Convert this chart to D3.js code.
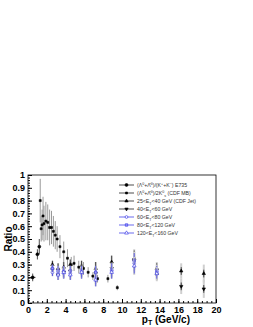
<!DOCTYPE html>
<html>
<head>
<meta charset="utf-8">
<script src="https://cdn.jsdelivr.net/npm/d3@7"></script>
<style>
  body { margin: 0; background: #fff; }
  svg { display: block; font-family: "Liberation Sans", Arial, sans-serif; }
</style>
</head>
<body>
<div id="container"></div>
<script>
const w = 253;
const h = 327;
const padL = 28;
const padR = 216;
const padT = 175;
const padB = 303;

// E735 (Lambda / charged K)
const e735Pt = [0.5, 1.0, 1.2];
const e735Ratio = [0.2, 0.38, 0.44];
const e735Err = [0.03, 0.04, 0.06];

// CDF minimum bias
const mbPt = [1.3, 1.4, 1.5, 1.6, 1.7, 1.9, 2.1, 2.3, 2.5, 2.7, 2.9, 3.1, 3.4, 3.8, 4.2, 4.6, 4.9, 5.4, 5.9, 6.4, 6.9, 7.4, 8.5, 9.5];
const mbRatio = [0.80, 0.58, 0.61, 0.68, 0.62, 0.64, 0.63, 0.59, 0.59, 0.56, 0.53, 0.50, 0.44, 0.40, 0.35, 0.30, 0.31, 0.28, 0.27, 0.24, 0.21, 0.19, 0.19, 0.12];
const mbErr = [0.17, 0.10, 0.12, 0.15, 0.14, 0.15, 0.14, 0.14, 0.13, 0.12, 0.11, 0.10, 0.09, 0.08, 0.07, 0.06, 0.06, 0.05, 0.05, 0.04, 0.03, 0.03, 0.03, 0.02];

// CDF jets, by E_T bin
const jetPt = [2.6, 3.2, 3.8, 4.5, 5.7, 7.2, 8.9, 11.3, 13.7, 16.3, 18.7];
const jet25 = [0.30, 0.27, 0.28, 0.30, 0.29, 0.27, 0.32, 0.35, 0.27, 0.25, 0.23];
const jet40 = [0.26, 0.22, 0.24, 0.25, 0.26, 0.23, 0.27, 0.33, 0.22, 0.13, 0.11];
const jet60 = [0.24, 0.23, 0.23, 0.23, 0.23, 0.20, 0.25, 0.31, 0.24, null, null];
const jet80 = [0.27, 0.25, 0.25, 0.25, 0.25, 0.24, 0.26, 0.33, 0.25, null, null];
const jet120 = [null, 0.22, 0.24, 0.22, 0.24, 0.18, 0.24, 0.29, 0.23, null, null];
const jetStat = [0.03, 0.04, 0.04, 0.04, 0.04, 0.05, 0.05, 0.06, 0.04, 0.03, 0.03];
const jetSys = [0.03, 0.04, 0.04, 0.04, 0.04, 0.05, 0.05, 0.07, 0.05, 0.06, 0.07];

const xTicks = [0, 2, 4, 6, 8, 10, 12, 14, 16, 18, 20];
const yTicks = [0, 0.1, 0.2, 0.3, 0.4, 0.5, 0.6, 0.7, 0.8, 0.9, 1];

const legendLabels = [
  [["(Λ", ""], ["0", "sup"], ["+Λ̄", ""], ["0", "sup"], [")/(K", ""], ["+", "sup"], ["+K", ""], ["−", "sup"], [") E735", ""]],
  [["(Λ", ""], ["0", "sup"], ["+Λ̄", ""], ["0", "sup"], [")/2K", ""], ["0", "sup"], ["s", "sub"], [" (CDF MB)", ""]],
  [["25<E", ""], ["T", "sub"], ["<40 GeV (CDF Jet)", ""]],
  [["40<E", ""], ["T", "sub"], ["<60 GeV", ""]],
  [["60<E", ""], ["T", "sub"], ["<80 GeV", ""]],
  [["80<E", ""], ["T", "sub"], ["<120 GeV", ""]],
  [["120<E", ""], ["T", "sub"], ["<160 GeV", ""]]
];

const blue = "#2b2be6";
const series = [
  { x: e735Pt, y: e735Ratio, err: e735Err, shape: d3.symbolCircle, color: "#000", fill: "#000", size: 7 },
  { x: mbPt, y: mbRatio, err: mbErr, shape: d3.symbolSquare, color: "#000", fill: "#000", size: 4, grey: true },
  { x: jetPt, y: jet25, err: jetStat, sys: jetSys, shape: d3.symbolTriangle, color: "#000", fill: "#000", size: 5 },
  { x: jetPt, y: jet40, err: jetStat, sys: jetSys, shape: d3.symbolTriangle, rot: 180, color: "#000", fill: "#000", size: 5 },
  { x: jetPt, y: jet60, err: jetStat, sys: jetSys, shape: d3.symbolCircle, color: blue, fill: "#fff", size: 6 },
  { x: jetPt, y: jet80, err: jetStat, sys: jetSys, shape: d3.symbolSquare, color: blue, fill: "#9a9af5", size: 6 },
  { x: jetPt, y: jet120, err: jetStat, sys: jetSys, shape: d3.symbolTriangle, color: blue, fill: "#fff", size: 6 }
];

const svg = d3.select("#container")
  .append("svg")
  .attr("width", w)
  .attr("height", h);

const xScale = d3.scaleLinear().domain([0, 20]).range([padL, padR]);
const yScale = d3.scaleLinear().domain([0, 1]).range([padB, padT]);

// minor ticks
svg.append("g")
  .attr("transform", `translate(0, ${padB})`)
  .call(d3.axisBottom(xScale).tickValues(d3.range(0, 20.01, 0.5)).tickSize(-2).tickFormat(""))
  .call(g => g.select(".domain").remove());
svg.append("g")
  .attr("transform", `translate(${padL}, 0)`)
  .call(d3.axisLeft(yScale).tickValues(d3.range(0, 1.001, 0.02)).tickSize(-2).tickFormat(""))
  .call(g => g.select(".domain").remove());

const xAxis = svg.append("g")
  .attr("transform", `translate(0, ${padB})`)
  .call(d3.axisBottom(xScale).tickValues(xTicks).tickSize(-4).tickPadding(4).tickFormat(d3.format("d")));
const yAxis = svg.append("g")
  .attr("transform", `translate(${padL}, 0)`)
  .call(d3.axisLeft(yScale).tickValues(yTicks).tickSize(-4).tickPadding(3).tickFormat(d3.format("~g")));
[xAxis, yAxis].forEach(g => {
  g.select(".domain").remove();
  g.selectAll("text").attr("font-size", 9).attr("font-weight", "bold").attr("fill", "#000").attr("font-family", "Liberation Sans, Arial, sans-serif");
});

svg.append("rect")
  .attr("x", padL)
  .attr("y", padT)
  .attr("width", padR - padL)
  .attr("height", padB - padT)
  .attr("fill", "none")
  .attr("stroke", "#000")
  .attr("stroke-width", 0.8);

svg.append("text")
  .text("Ratio")
  .attr("transform", `translate(12, ${(padT + padB) / 2}) rotate(-90)`)
  .attr("text-anchor", "middle")
  .attr("font-size", 10)
  .attr("font-weight", "bold");

const xTitle = svg.append("text")
  .attr("x", 190)
  .attr("y", 323)
  .attr("text-anchor", "end")
  .attr("font-size", 10)
  .attr("font-weight", "bold");
xTitle.append("tspan").text("p");
xTitle.append("tspan").text("T").attr("font-size", 7).attr("dy", 2);
xTitle.append("tspan").text(" (GeV/c)").attr("dy", -2);

// data
series.forEach(s => {
  const pts = s.x.map((x, i) => ({ x, y: s.y[i], e: s.err[i], sys: s.sys ? s.sys[i] : 0 }))
    .filter(d => d.y != null);
  const g = svg.append("g");
  g.selectAll(".sys")
    .data(pts.filter(d => d.sys))
    .join("line")
    .attr("x1", d => xScale(d.x))
    .attr("x2", d => xScale(d.x))
    .attr("y1", d => yScale(d.y - d.sys))
    .attr("y2", d => yScale(d.y + d.sys))
    .attr("stroke", "#cfcfcf")
    .attr("stroke-width", 2);
  g.selectAll(".err")
    .data(pts)
    .join("line")
    .attr("x1", d => xScale(d.x))
    .attr("x2", d => xScale(d.x))
    .attr("y1", d => yScale(d.y - d.e))
    .attr("y2", d => yScale(d.y + d.e))
    .attr("stroke", s.grey ? "#9a9a9a" : s.color)
    .attr("stroke-width", s.grey ? 1 : 0.7);
  g.selectAll("path")
    .data(pts)
    .join("path")
    .attr("d", d3.symbol().type(s.shape).size(s.size))
    .attr("transform", d => `translate(${xScale(d.x)}, ${yScale(d.y)}) rotate(${s.rot || 0})`)
    .attr("fill", s.fill)
    .attr("stroke", s.color)
    .attr("stroke-width", 0.6);
});
// horizontal bar on the lowest E735 point
svg.append("line")
  .attr("x1", xScale(e735Pt[0] - 0.3))
  .attr("x2", xScale(e735Pt[0] + 0.3))
  .attr("y1", yScale(e735Ratio[0]))
  .attr("y2", yScale(e735Ratio[0]))
  .attr("stroke", "#000")
  .attr("stroke-width", 0.7);

// legend
const legend = svg.append("g");
legendLabels.forEach((parts, i) => {
  const s = series[i];
  const ly = 185 + i * 8;
  legend.append("line")
    .attr("x1", 119).attr("x2", 134)
    .attr("y1", ly).attr("y2", ly)
    .attr("stroke", s.color)
    .attr("stroke-width", 0.7);
  legend.append("path")
    .attr("d", d3.symbol().type(s.shape).size(s.size)())
    .attr("transform", `translate(126.5, ${ly}) rotate(${s.rot || 0})`)
    .attr("fill", s.fill)
    .attr("stroke", s.color)
    .attr("stroke-width", 0.6);
  const t = legend.append("text")
    .attr("x", 137)
    .attr("y", ly + 1.8)
    .attr("font-size", 5.2)
    .attr("fill", "#333");
  parts.forEach(([str, kind]) => {
    const sp = t.append("tspan").text(str);
    if (kind === "sup") sp.attr("font-size", 3.6).attr("baseline-shift", "super");
    if (kind === "sub") sp.attr("font-size", 3.6).attr("baseline-shift", "sub");
  });
});
</script>
</body>
</html>
